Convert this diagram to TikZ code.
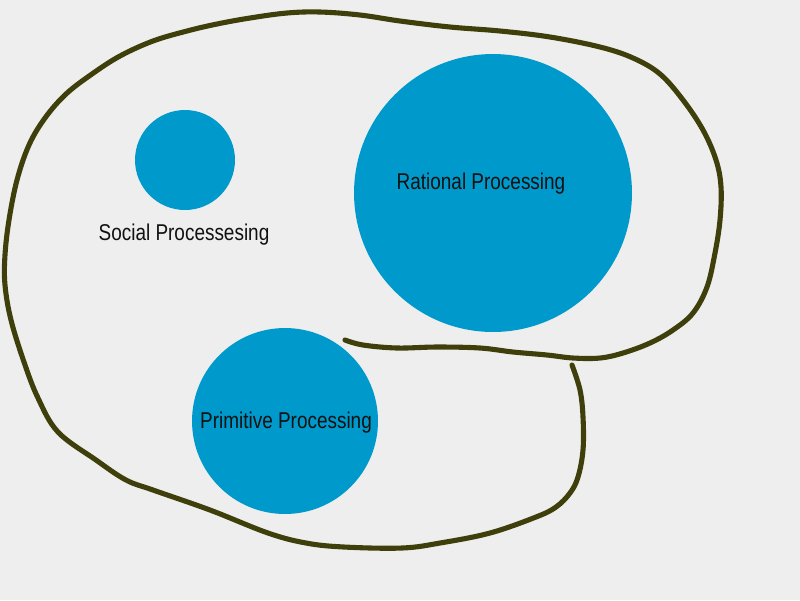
\documentclass[tikz,border=0pt]{standalone}
\usepackage{fontspec}
\setmainfont{Liberation Sans}[FakeStretch=0.83]
\usetikzlibrary{positioning}
\definecolor{paper}{HTML}{EEEEEE}
\definecolor{blob}{HTML}{0099CB}
\definecolor{olive}{HTML}{3F3F0C}
\definecolor{ink}{HTML}{111111}

\begin{document}
\begin{tikzpicture}[x=0.02cm,y=-0.02cm,
      area/.style={circle,fill=blob,draw=none,inner sep=0pt},
      label/.style={font=\fontsize{13}{15}\selectfont,text=ink,inner sep=0pt,anchor=center},
      outline/.style={draw=olive,line width=2.9pt,line cap=round,line join=round}]
    \fill[paper] (0,0) rectangle (800,600);
    \useasboundingbox (0,0) rectangle (800,600);
    \node[area,minimum size=2cm] (social) at (185,160) {};
    \node[area,minimum size=5.56cm] (rational) at (493,193) {};
    \node[area,minimum size=3.72cm] (primitive) at (285,421) {};
    \node[label] (sociallbl) at (184,235) {Social Processesing};
    \node[label] (rationallbl) at (481,184) {Rational Processing};
    \node[label] (primitivelbl) at (286,423) {Primitive Processing};
    % hand drawn boundary
    \draw[outline] plot[smooth,tension=0.6] coordinates {
      (345,340) (363,345) (397,348) (437,347) (480,348) (513,352) (547,355)
      (573,358) (600,358) (623,353) (650,343) (673,330) (693,313) (707,287)
      (715,253) (720,220) (721,187) (716,160) (703,130) (683,100) (660,74)
      (633,58) (600,47) (550,37) (500,31) (450,27) (400,21) (360,15)
      (320,12) (287,13) (250,18) (217,24) (187,31) (153,41) (120,56) (92,74)
      (66,94) (45,118) (29,145) (17,180) (9,220) (5,255) (5,285) (11,320)
      (24,362) (38,398) (58,432) (96,460) (126,480) (153,490) (210,510)
      (268,533) (306,543) (344,547) (402,548) (440,543) (490,533) (536,517)
      (556,507) (570,493) (578,477) (583,450) (583,417) (580,390) (572,365)};
\end{tikzpicture}
\end{document}
